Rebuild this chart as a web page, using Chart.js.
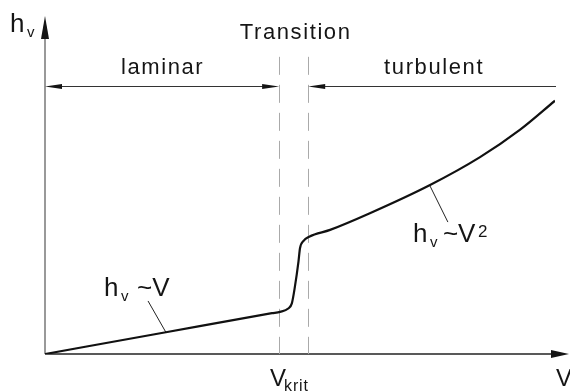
<!DOCTYPE html>
<html>
<head>
<meta charset="utf-8">
<script src="https://cdn.jsdelivr.net/npm/chart.js@4"></script>
<style>
  html, body { margin: 0; padding: 0; background: #fff; }
  #wrap { width: 570px; height: 392px; }
</style>
</head>
<body>
<div id="wrap"><canvas id="chart" width="570" height="392"></canvas></div>
<script>
'use strict';

// flow velocity V and head loss h_v, arbitrary units
const velocity = [0, 2.37, 4.45, 4.61, 4.77, 4.84, 4.90, 4.97, 5.00, 5.07, 5.18, 5.59, 6.37, 7.55, 8.53, 9.31, 10.0];
const headLoss = [0, 0.64, 1.20, 1.24, 1.34, 1.49, 1.98, 2.72, 3.11, 3.33, 3.45, 3.65, 4.14, 4.97, 5.79, 6.59, 7.45];

// region borders (V) and the height of the region arrows / dashed lines (h_v)
const vKrit = 4.61;
const vTurb = 5.18;
const regionNames = ['laminar', 'turbulent'];
const regionFrom = [0, vTurb];
const regionTo = [vKrit, 10.0];
const regionArrowH = 7.88;
const dashTopH = 8.74;

// leader lines for the two laws: point on the curve -> label end
const lawCurveV = [2.37, 7.55];
const lawCurveH = [0.64, 4.94];
const lawTextV = [2.02, 7.90];
const lawTextH = [1.56, 3.88];

const FONT = '"Liberation Sans", Arial, sans-serif';
const INK = '#151515';

function line(ctx, x1, y1, x2, y2) {
  ctx.beginPath();
  ctx.moveTo(x1, y1);
  ctx.lineTo(x2, y2);
  ctx.stroke();
}

function arrowHead(ctx, tx, ty, dx, dy, len, half) {
  const bx = tx - dx * len, by = ty - dy * len;
  ctx.beginPath();
  ctx.moveTo(tx, ty);
  ctx.lineTo(bx - dy * half, by + dx * half);
  ctx.lineTo(bx + dy * half, by - dx * half);
  ctx.closePath();
  ctx.fill();
}

function text(ctx, str, x, y, size, align, spacing) {
  ctx.font = size + 'px ' + FONT;
  ctx.textAlign = align || 'left';
  ctx.letterSpacing = (spacing || 0) + 'px';
  ctx.fillText(str, x, y);
}

const sketch = {
  id: 'sketch',
  beforeDatasetsDraw(chart) {
    const { ctx, scales: { x, y } } = chart;
    const x0 = x.getPixelForValue(0);
    const y0 = y.getPixelForValue(0);
    ctx.save();
    ctx.fillStyle = INK;

    // axes
    ctx.lineWidth = 1.5;
    ctx.strokeStyle = '#777';
    line(ctx, x0, y0, x0, 34);
    arrowHead(ctx, x0, 16, 0, -1, 23, 4);
    ctx.strokeStyle = '#222';
    line(ctx, x0, y0, x.right + 2, y0);
    arrowHead(ctx, x.right + 14, y0, 1, 0, 18, 4);

    // region borders
    ctx.lineWidth = 1;
    ctx.strokeStyle = '#aaa';
    ctx.setLineDash([18, 10]);
    [vKrit, vTurb].forEach(v => {
      const px = Math.round(x.getPixelForValue(v)) - 0.5;
      line(ctx, px, y.getPixelForValue(dashTopH), px, y0);
    });
    ctx.setLineDash([]);

    // region arrows
    const ay = Math.round(y.getPixelForValue(regionArrowH)) + 0.5;
    ctx.strokeStyle = '#333';
    const lx1 = x.getPixelForValue(regionFrom[0]), lx2 = x.getPixelForValue(regionTo[0]) - 1;
    line(ctx, lx1 + 10, ay, lx2 - 10, ay);
    arrowHead(ctx, lx1, ay, -1, 0, 17, 2.5);
    arrowHead(ctx, lx2, ay, 1, 0, 17, 2.5);
    const tx1 = x.getPixelForValue(regionFrom[1]) - 1, tx2 = x.getPixelForValue(regionTo[1]) + 1;
    line(ctx, tx1 + 10, ay, tx2, ay);
    arrowHead(ctx, tx1, ay, -1, 0, 17, 2.5);

    // leader lines
    ctx.strokeStyle = '#222';
    lawCurveV.forEach((v, i) => {
      line(ctx, x.getPixelForValue(v), y.getPixelForValue(lawCurveH[i]),
        x.getPixelForValue(lawTextV[i]), y.getPixelForValue(lawTextH[i]));
    });
    ctx.restore();
  },
  afterDraw(chart) {
    const { ctx, scales: { x, y } } = chart;
    ctx.save();
    ctx.fillStyle = INK;

    // titles
    text(ctx, 'Transition', (x.getPixelForValue(vKrit) + x.getPixelForValue(vTurb)) / 2 + 1, 39, 22, 'center', 1.6);
    const ay = y.getPixelForValue(regionArrowH);
    regionNames.forEach((name, i) => {
      const cx = (x.getPixelForValue(regionFrom[i]) + x.getPixelForValue(regionTo[i])) / 2;
      text(ctx, name, cx + (i ? 2 : 0), ay - 12, 22, 'center', 1.6);
    });

    // axis labels
    text(ctx, 'h', 10, 32, 26);
    text(ctx, 'v', 27, 37, 15);
    text(ctx, 'V', 556, 386, 24);
    const kx = x.getPixelForValue(vKrit);
    text(ctx, 'V', kx - 10, 386, 24);
    text(ctx, 'krit', kx + 4, 391, 16, 'left', 0.8);

    // laws
    let lx = x.getPixelForValue(lawTextV[0]) - 44, ly = y.getPixelForValue(lawTextH[0]) - 5;
    text(ctx, 'h', lx, ly, 26);
    text(ctx, 'v', lx + 17, ly + 5, 15);
    text(ctx, '~V', lx + 33, ly, 26);
    lx = x.getPixelForValue(lawTextV[1]) - 35;
    ly = y.getPixelForValue(lawTextH[1]) + 20;
    text(ctx, 'h', lx, ly, 26);
    text(ctx, 'v', lx + 17, ly + 5, 15);
    text(ctx, '~V', lx + 30, ly, 26);
    text(ctx, '2', lx + 65, ly - 5, 17);
    ctx.restore();
  }
};

new Chart(document.getElementById('chart'), {
  type: 'scatter',
  data: {
    datasets: [{
      data: velocity.map((v, i) => ({ x: v, y: headLoss[i] })),
      showLine: true,
      borderColor: '#111',
      borderWidth: 2.2,
      pointRadius: 0,
      cubicInterpolationMode: 'monotone',
      fill: false
    }]
  },
  options: {
    responsive: false,
    animation: false,
    devicePixelRatio: 1,
    layout: { padding: { left: 45, right: 15, top: 14, bottom: 38 } },
    scales: {
      x: { type: 'linear', min: 0, max: 10, display: false },
      y: { type: 'linear', min: 0, max: 10, display: false }
    },
    plugins: {
      legend: { display: false },
      tooltip: { enabled: false }
    }
  },
  plugins: [sketch]
});
</script>
</body>
</html>
